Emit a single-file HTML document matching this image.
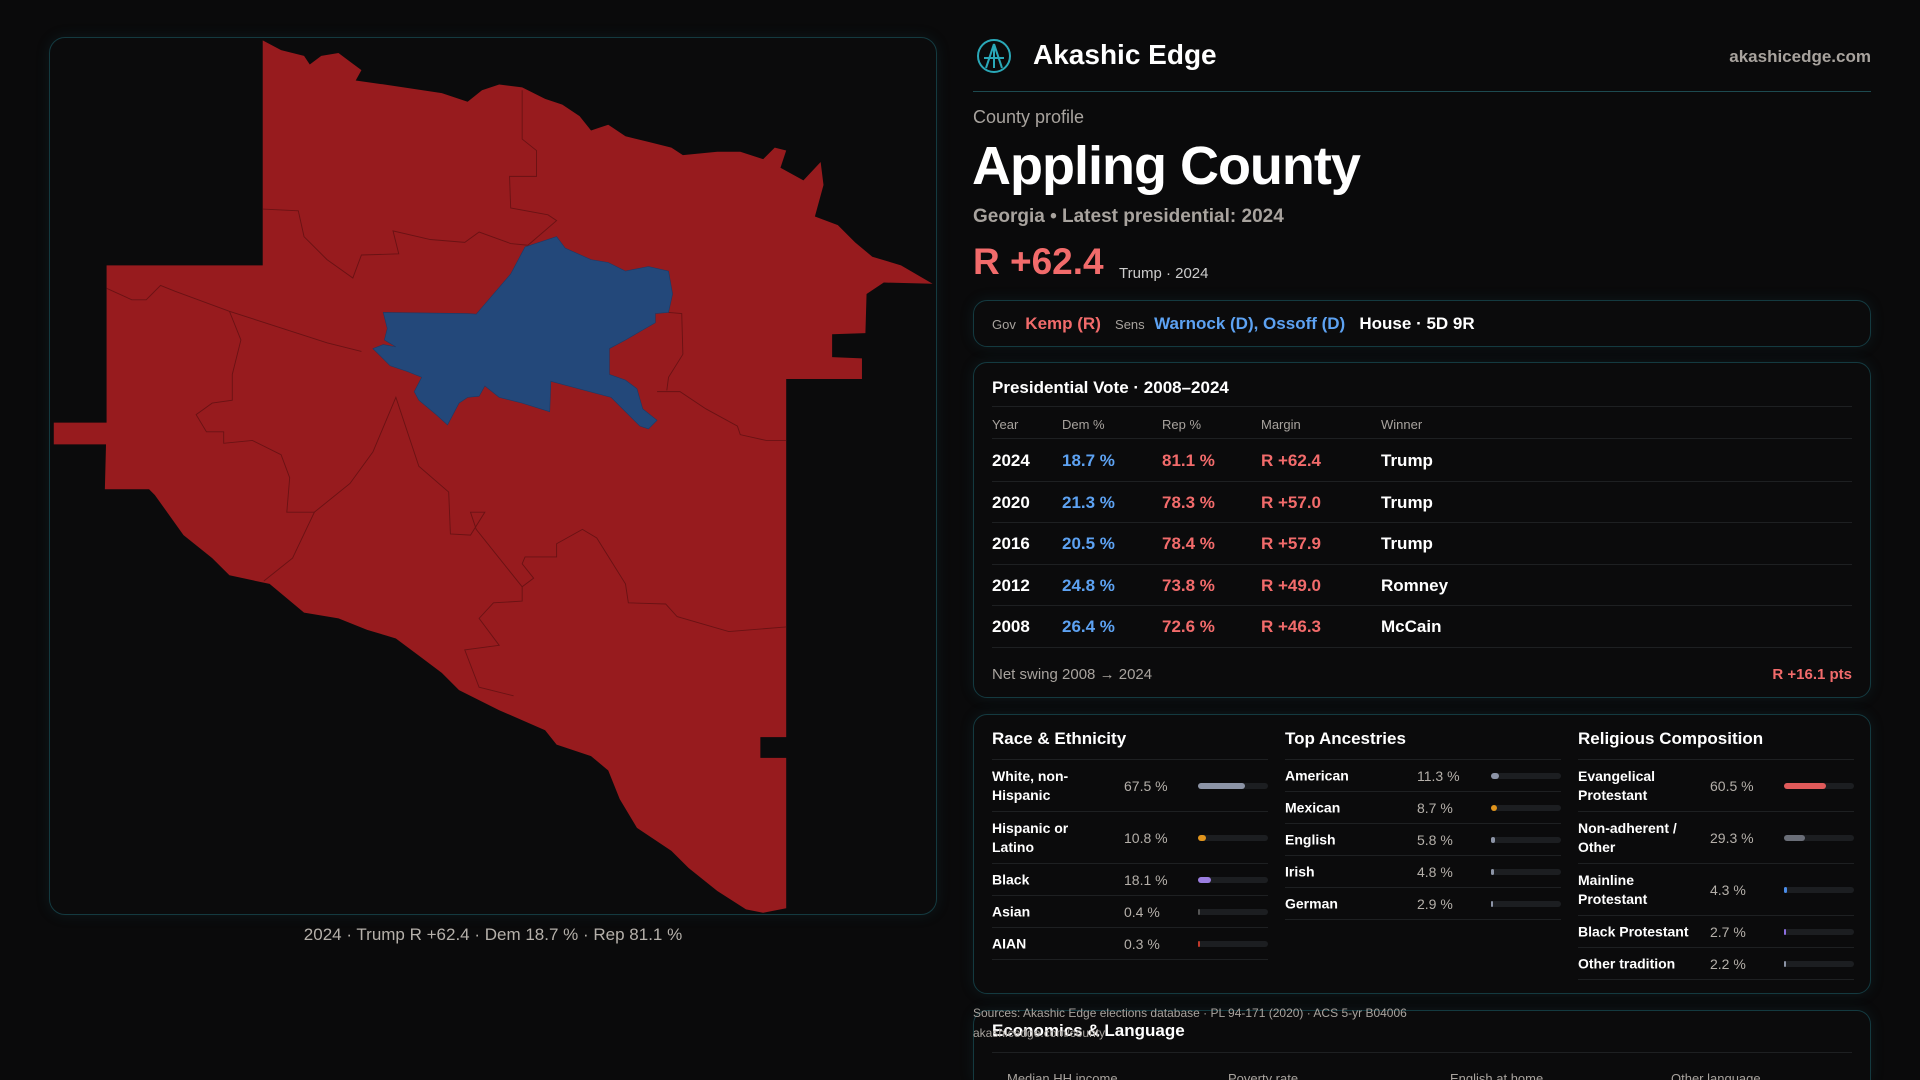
<!DOCTYPE html>
<html style="width:1920px;height:1080px;overflow:hidden"><head><meta charset="utf-8">
<style>
*{box-sizing:border-box;margin:0;padding:0}
body{width:1920px;height:1080px;background:#0a0a0b;color:#fff;font-family:"Liberation Sans",sans-serif;position:relative;overflow:hidden}
.abs{position:absolute}
.card{position:absolute;border:1px solid #143a40;border-radius:14px;background:#0b0b0c;box-shadow:0 0 14px rgba(30,90,100,.18)}
.muted{color:#a8a39e}
.red{color:#f26b6b}.blue{color:#5da2f2}
.row{position:absolute;left:0;right:0;border-bottom:1px solid #1e2022}
</style></head><body>
<div class="card" style="left:49px;top:37px;width:888px;height:878px;border-radius:16px;background:#0b0b0c"></div>
<svg class="abs" style="left:0;top:0" width="1920" height="1080" viewBox="0 0 1920 1080">
<g transform="translate(40,30) scale(0.574)">
<polygon fill="#971b1e" points="388,18 420,35 460,45 470,60 490,45 520,40 540,55 560,70 550,88 600,95 700,110 745,125 770,105 800,95 840,100 880,120 910,130 940,150 960,175 990,165 1020,185 1060,195 1100,205 1120,218 1180,212 1220,212 1260,225 1280,205 1300,210 1290,240 1330,262 1360,230 1365,270 1350,325 1390,340 1420,370 1450,395 1500,410 1555,442 1470,440 1440,460 1438,528 1380,530 1380,570 1432,572 1432,608 1300,608 1300,1232 1255,1232 1255,1268 1300,1268 1300,1530 1260,1538 1230,1532 1180,1500 1130,1460 1100,1430 1040,1390 1010,1340 990,1290 960,1265 900,1245 880,1220 800,1185 760,1165 730,1150 700,1120 660,1090 620,1060 570,1045 520,1025 460,1015 400,965 330,950 300,920 250,880 200,810 190,800 113,800 115,722 24,722 24,684 116,684 116,410 388,410"/>
<g fill="none" stroke="#6a1214" stroke-width="1.6">
<polyline points="388,312 450,315 460,360 500,400 545,432 560,392 625,390 615,350 680,365 740,370 765,352 820,372 850,375 900,332 885,322 820,310 818,255 865,255 865,210 840,190 840,105"/>
<polyline points="116,450 160,470 185,470 210,445 235,455 330,490 500,545 560,560"/>
<polyline points="330,490 350,540 335,600 335,645 300,650 272,670 290,700 320,700 320,720 370,715 420,740 435,780 430,840 478,840 440,920 390,960"/>
<polyline points="478,840 540,790 580,735 620,640 660,760 712,805 715,878 750,880 775,840 750,840 760,870 840,970 840,995 790,998 765,1025 800,1072 740,1080 765,1145 825,1160"/>
<polyline points="840,970 860,955 840,930 845,918 900,918 900,895 945,870 970,885 1020,965 1025,998 1090,1000 1110,1022 1200,1048 1300,1040"/>
<polyline points="1075,630 1115,630 1160,660 1215,690 1220,705 1265,715 1300,715"/>
<polyline points="1095,492 1118,494 1120,565 1095,605 1092,628"/>
</g>
<polygon fill="#23487a" stroke="#1b3a66" points="598,492 745,494 760,495 820,425 845,378 900,360 915,380 960,400 990,405 1020,420 1060,412 1095,420 1102,460 1095,492 1072,494 1072,510 1020,540 992,555 992,600 1020,610 1040,625 1050,660 1075,680 1060,695 1045,690 995,640 890,612 888,665 840,650 800,640 775,620 765,638 745,640 730,650 710,688 690,670 660,645 652,630 665,605 640,595 610,585 600,575 580,555 598,548 620,552 600,540 605,520"/>
</g>
</svg>
<div class="abs muted" style="left:49px;width:888px;top:925px;text-align:center;font-size:17px;color:#b5b0aa">2024 · Trump R +62.4 · Dem 18.7 % · Rep 81.1 %</div>

<svg class="abs" style="left:976px;top:38px" width="36" height="36" viewBox="0 0 36 36"><circle cx="18" cy="18" r="16" fill="none" stroke="#2aa8b8" stroke-width="2"/><path d="M18 6 L10 30 M18 6 L26 30 M8 20 L28 20 M18 6 L18 30" stroke="#2aa8b8" stroke-width="2" fill="none"/></svg>
<div class="abs" style="left:1033px;top:39px;font-size:28px;font-weight:bold">Akashic Edge</div>
<div class="abs" style="right:49px;top:47px;font-size:17px;font-weight:bold;color:#a8a39e">akashicedge.com</div>
<div class="abs" style="left:973px;width:898px;top:91px;height:1px;background:#1d4a50"></div>
<div class="abs muted" style="left:973px;top:107px;font-size:18px">County profile</div>
<div class="abs" style="left:972px;top:135px;font-size:54px;font-weight:bold;letter-spacing:-1px">Appling County</div>
<div class="abs muted" style="left:973px;top:206px;font-size:19px;font-weight:bold">Georgia • Latest presidential: 2024</div>
<div class="abs red" style="left:973px;top:241px;font-size:37px;font-weight:bold">R +62.4</div>
<div class="abs" style="left:1119px;top:265px;font-size:15px;color:#ccc">Trump · 2024</div>

<div class="card" style="left:973px;top:300px;width:898px;height:47px">
<div class="abs" style="left:18px;top:13px;font-size:17px;white-space:nowrap"><span style="font-size:13px;color:#a8a39e">Gov</span>&nbsp; <b class="red">Kemp (R)</b> &nbsp;&nbsp;<span style="font-size:13px;color:#a8a39e">Sens</span>&nbsp; <b class="blue">Warnock (D), Ossoff (D)</b> &nbsp;&nbsp;<b>House · 5D 9R</b></div>
</div>

<div class="card" style="left:973px;top:362px;width:898px;height:336px">
<div class="abs" style="left:18px;top:15px;font-size:17px;font-weight:bold">Presidential Vote · 2008–2024</div>
<div class="row" style="left:18px;right:18px;top:43px"></div>
<div id="presHead" class="abs" style="left:18px;right:18px;top:50px;height:26px;font-size:13px;color:#a8a39e;border-bottom:1px solid #1e2022"></div>
<div id="presRows"></div>
<div class="abs muted" style="left:18px;top:303px;font-size:15px">Net swing 2008 → 2024</div>
<div class="abs red" style="right:18px;top:303px;font-size:15px;font-weight:bold">R +16.1 pts</div>
</div>

<div class="card" style="left:973px;top:714px;width:898px;height:280px" id="demo"></div>

<div class="card" style="left:973px;top:1010px;width:898px;height:70px;border-bottom:none;border-bottom-left-radius:0;border-bottom-right-radius:0">
<div class="abs" style="left:18px;top:10px;font-size:17px;font-weight:bold">Economics &amp; Language</div>
<div class="row" style="left:18px;right:18px;top:41px"></div>
<div class="abs" style="left:18px;right:18px;top:60px;font-size:13px;color:#a8a39e">
<span class="abs" style="left:15px">Median HH income</span>
<span class="abs" style="left:236px">Poverty rate</span>
<span class="abs" style="left:458px">English at home</span>
<span class="abs" style="left:679px">Other language</span></div>
</div>
<div class="abs" style="left:973px;top:1006px;font-size:12px;color:#a8a39e">Sources: Akashic Edge elections database · PL 94-171 (2020) · ACS 5-yr B04006</div>
<div class="abs" style="left:973px;top:1026px;font-size:12px;color:#a8a39e">akashicedge.com/county</div>

<script>
const presYears=["2024","2020","2016","2012","2008"];
const presDem=[18.7,21.3,20.5,24.8,26.4];
const presRep=[81.1,78.3,78.4,73.8,72.6];
const presMargin=[62.4,57.0,57.9,49.0,46.3];
const presWinner=["Trump","Trump","Trump","Romney","McCain"];
const raceLabels=["White, non-Hispanic","Hispanic or Latino","Black","Asian","AIAN"];
const raceVals=[67.5,10.8,18.1,0.4,0.3];
const ancLabels=["American","Mexican","English","Irish","German"];
const ancVals=[11.3,8.7,5.8,4.8,2.9];
const relLabels=["Evangelical Protestant","Non-adherent / Other","Mainline Protestant","Black Protestant","Other tradition"];
const relVals=[60.5,29.3,4.3,2.7,2.2];

const colX=[0,70,170,269,389];
const head=document.getElementById('presHead');
["Year","Dem %","Rep %","Margin","Winner"].forEach((h,i)=>{const s=document.createElement('span');s.className='abs';s.style.left=colX[i]+'px';s.style.top='4px';s.textContent=h;


head.appendChild(s);});
const pr=document.getElementById('presRows');
presYears.forEach((y,r)=>{const row=document.createElement('div');row.className='row';row.style.left='18px';row.style.right='18px';row.style.top=(77+r*41.5)+'px';row.style.height='41.5px';


const cells=[[y,'#fff'],[presDem[r].toFixed(1)+' %','#5da2f2'],[presRep[r].toFixed(1)+' %','#f26b6b'],['R +'+presMargin[r].toFixed(1),'#f26b6b'],[presWinner[r],'#fff']];
cells.forEach((c,i)=>{const s=document.createElement('span');s.className='abs';s.style.left=colX[i]+'px';s.style.top='11px';s.style.fontSize='17px';s.style.fontWeight='bold';s.style.color=c[1];s.textContent=c[0];


row.appendChild(s);});
pr.appendChild(row);});

const demo=document.getElementById('demo');
function section(x,title,labels,vals,colors,heights){
 const t=document.createElement('div');t.className='abs';t.style.left=x+'px';t.style.top='14px';t.style.fontSize='17px';t.style.fontWeight='bold';t.textContent=title;
 
 
 demo.appendChild(t);
 const ln=document.createElement('div');ln.className='abs';ln.style.left=x+'px';ln.style.width='276px';ln.style.top='44px';ln.style.height='1px';ln.style.background='#1e2022';demo.appendChild(ln);
 let y=45;
 labels.forEach((l,i)=>{const h=heights[i];const r=document.createElement('div');r.className='abs';r.style.left=x+'px';r.style.width='276px';r.style.top=y+'px';r.style.height=h+'px';r.style.borderBottom='1px solid #1e2022';
 
 
 r.innerHTML='<div class="abs" style="left:0;width:120px;top:50%;transform:translateY(-50%);font-size:14px;font-weight:bold;line-height:19px">'+l+'</div><div class="abs" style="left:132px;top:50%;transform:translateY(-50%);font-size:14px;color:#b5b0aa">'+vals[i]+' %</div>';
 const tr=document.createElement('div');tr.className='abs';tr.style.cssText='left:206px;width:70px;height:6px;top:'+(h/2-3)+'px;background:#1c1e21;border-radius:3px';
 
 
 const f=document.createElement('div');f.style.cssText='height:6px;border-radius:3px;background:'+colors[i]+';width:'+Math.max(2,vals[i]/100*70)+'px';
 
 
 tr.appendChild(f);r.appendChild(tr);demo.appendChild(r);y+=h;});
}
section(18,'Race & Ethnicity',raceLabels,raceVals,['#8c94a6','#e0941c','#9b7ee0','#555','#c0392b'],[52,52,32,32,32]);
section(311,'Top Ancestries',ancLabels,ancVals,['#8c94a6','#e0941c','#8c94a6','#8c94a6','#8c94a6'],[32,32,32,32,32]);
section(604,'Religious Composition',relLabels,relVals,['#e05a5a','#6a6e78','#4a8ce8','#8c6ee0','#8c94a6'],[52,52,52,32,32]);
</script>
</body></html>
